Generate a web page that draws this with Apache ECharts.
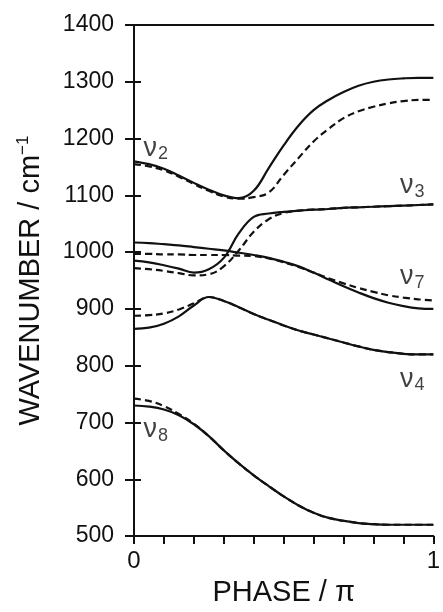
<!DOCTYPE html>
<html>
<head>
<meta charset="utf-8">
<script src="https://cdn.jsdelivr.net/npm/echarts@6/dist/echarts.min.js"></script>
<style>
  html, body { margin: 0; padding: 0; background: #fff; }
  #chart { width: 443px; height: 612px; }
</style>
</head>
<body>
<div id="chart"></div>
<script>
// phase (in units of pi), shared by every curve
var phase = [0, 0.05, 0.1, 0.15, 0.2, 0.25, 0.3, 0.35, 0.4, 0.45, 0.5,
             0.55, 0.6, 0.65, 0.7, 0.75, 0.8, 0.85, 0.9, 0.95, 1];

// upper branch (nu2 -> top right)
var upperSolid = [1160, 1155, 1147, 1135, 1122, 1110, 1100, 1095, 1108, 1148, 1188,
                  1223, 1250, 1268, 1282, 1293, 1300, 1304, 1306, 1307, 1307];
var upperDash  = [1155, 1151, 1144, 1133, 1120, 1108, 1098, 1094, 1097, 1105, 1136,
                  1166, 1195, 1217, 1236, 1248, 1256, 1262, 1266, 1268, 1268];
// nu3 branch
var nu3Solid = [985, 982, 977, 971, 964, 970, 990, 1033, 1062, 1068, 1071,
                1073, 1075, 1076, 1078, 1079, 1080, 1081, 1082, 1083, 1084];
var nu3Dash  = [972, 970, 967, 963, 959, 961, 975, 1003, 1036, 1058, 1069,
                1073, 1075, 1076, 1078, 1079, 1080, 1081, 1082, 1083, 1084];
// nu7 branch
var nu7Solid = [1017, 1016, 1014, 1012, 1009, 1006, 1003, 999, 995, 990, 983,
                975, 964, 952, 940, 929, 919, 911, 905, 901, 900];
var nu7Dash  = [997, 997, 996, 996, 995, 995, 995, 994, 993, 989, 982,
                974, 964, 954, 945, 937, 930, 924, 920, 917, 915];
// nu4 branch
var nu4Solid = [865, 867, 874, 887, 906, 921, 914, 903, 891, 881, 871,
                862, 855, 848, 841, 834, 828, 824, 821, 820, 820];
var nu4Dash  = [888, 889, 892, 899, 910, 921, 914, 903, 891, 881, 871,
                862, 855, 848, 841, 834, 828, 824, 821, 820, 820];
// nu8 branch
var nu8Solid = [730, 728, 723, 713, 697, 676, 651, 628, 607, 588, 570,
                554, 541, 532, 527, 523, 521, 520, 520, 520, 520];
var nu8Dash  = [742, 738, 729, 715, 698, 676, 651, 628, 607, 588, 570,
                554, 541, 532, 527, 523, 521, 520, 520, 520, 520];

// mode labels: subscript, phase, wavenumber
var modeNames = ['2', '3', '7', '4', '8'];
var modeX = [0.073, 0.93, 0.93, 0.93, 0.073];
var modeY = [1183, 1117, 957, 776, 687];

var FONT = '"Liberation Sans", Arial, Helvetica, sans-serif';
var INK = '#111';

function pairs(ys) {
  return phase.map(function (p, i) { return [p, ys[i]]; });
}
function curve(ys, dashed) {
  return {
    type: 'line',
    data: pairs(ys),
    smooth: 0.4,
    showSymbol: false,
    silent: true,
    z: dashed ? 3 : 4,
    lineStyle: { color: INK, width: 2.2, type: dashed ? [7, 4] : 'solid' }
  };
}

var chart = echarts.init(document.getElementById('chart'));
var option = {
  animation: false,
  backgroundColor: '#fff',
  textStyle: { fontFamily: FONT, color: INK },
  grid: { left: 134, right: 6, top: 25, bottom: 63 },
  xAxis: [{
    type: 'value', min: 0, max: 1, interval: 0.1,
    position: 'bottom',
    name: 'PHASE / π', nameLocation: 'middle', nameGap: 35,
    nameTextStyle: { fontSize: 29, fontFamily: FONT, color: INK },
    axisLine: { lineStyle: { color: INK, width: 2 } },
    axisTick: { inside: false, length: 8, lineStyle: { color: INK, width: 2 } },
    axisLabel: {
      fontSize: 24, fontFamily: FONT, color: INK, margin: 13,
      showMinLabel: true, showMaxLabel: true,
      formatter: function (v) { return v === 0 ? '0' : (v === 1 ? '1' : ''); }
    },
    splitLine: { show: false }
  }, {
    type: 'value', min: 0, max: 1, position: 'top',
    axisLine: { show: true, lineStyle: { color: INK, width: 2 } },
    axisTick: { show: false }, axisLabel: { show: false }, splitLine: { show: false }
  }],
  yAxis: [{
    type: 'value', min: 500, max: 1400, interval: 100,
    position: 'left',
    name: '{t|WAVENUMBER / cm}{s|−1}', nameLocation: 'middle', nameRotate: 90, nameGap: 87,
    nameTextStyle: {
      color: INK,
      rich: {
        t: { fontSize: 29, fontFamily: FONT, color: INK },
        s: { fontSize: 17, fontFamily: FONT, color: INK, padding: [0, 0, 15, 0] }
      }
    },
    axisLine: { show: true, lineStyle: { color: INK, width: 2 } },
    axisTick: { inside: false, length: 9, lineStyle: { color: INK, width: 2 } },
    axisLabel: {
      fontSize: 23, fontFamily: FONT, color: INK, margin: 20,
      formatter: function (v) { return String(v); }
    },
    splitLine: { show: false }
  }, {
    type: 'value', min: 500, max: 1400, interval: 100,
    position: 'right',
    axisLine: { show: true, lineStyle: { color: INK, width: 2 } },
    axisTick: { inside: false, length: 7, lineStyle: { color: INK, width: 2 } },
    axisLabel: { show: false }, splitLine: { show: false }
  }],
  series: [
    curve(upperSolid, false), curve(upperDash, true),
    curve(nu3Solid, false), curve(nu3Dash, true),
    curve(nu7Solid, false), curve(nu7Dash, true),
    curve(nu4Solid, false), curve(nu4Dash, true),
    curve(nu8Solid, false), curve(nu8Dash, true),
    {
      type: 'scatter',
      symbolSize: 0,
      silent: true,
      z: 10,
      data: modeNames.map(function (n, i) { return { value: [modeX[i], modeY[i]], name: n }; }),
      label: {
        show: true,
        position: 'inside',
        formatter: function (p) { return '{n|ν}{s|' + p.name + '}'; },
        rich: {
          n: { fontSize: 27, fontFamily: FONT, color: INK },
          s: { fontSize: 18, fontFamily: FONT, color: INK, padding: [12, 0, 0, 1] }
        }
      }
    }
  ]
};
chart.setOption(option);
</script>
</body>
</html>
